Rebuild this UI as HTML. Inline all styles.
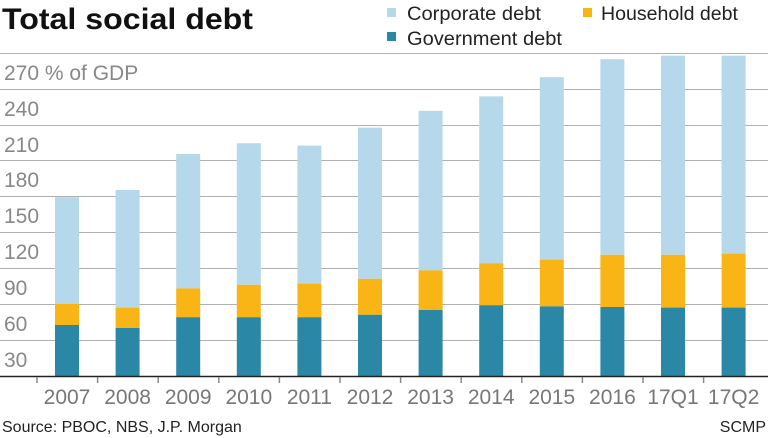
<!DOCTYPE html>
<html><head><meta charset="utf-8"><style>html,body{margin:0;padding:0;background:#fff}svg{display:block}</style></head>
<body>
<svg width="768" height="438" xmlns="http://www.w3.org/2000/svg" font-family="Liberation Sans, sans-serif">
<text x="2" y="29" font-size="30" font-weight="bold" fill="#111" textLength="251" lengthAdjust="spacingAndGlyphs">Total social debt</text>
<rect x="387" y="8" width="9" height="9" fill="#b5d9ea"/>
<text x="407" y="20" font-size="19.5" fill="#222" textLength="134" lengthAdjust="spacingAndGlyphs">Corporate debt</text>
<rect x="583" y="8" width="9" height="9" fill="#f9b516"/>
<text x="601" y="20" font-size="19.5" fill="#222" textLength="137" lengthAdjust="spacingAndGlyphs">Household debt</text>
<rect x="387" y="32" width="9" height="9" fill="#2a88a6"/>
<text x="407" y="45" font-size="19.5" fill="#222" textLength="155" lengthAdjust="spacingAndGlyphs">Government debt</text>
<g stroke="#b0b0b0" stroke-width="1">
<line x1="0" x2="768" y1="53.5" y2="53.5"/><line x1="0" x2="768" y1="89.5" y2="89.5"/><line x1="0" x2="768" y1="125.5" y2="125.5"/><line x1="0" x2="768" y1="160.5" y2="160.5"/><line x1="0" x2="768" y1="196.5" y2="196.5"/><line x1="0" x2="768" y1="232.5" y2="232.5"/><line x1="0" x2="768" y1="268.5" y2="268.5"/><line x1="0" x2="768" y1="304.5" y2="304.5"/><line x1="0" x2="768" y1="340.5" y2="340.5"/>
</g>
<g font-size="21" fill="#888">
<text x="4" y="80">270 % of GDP</text><text x="4" y="116">240</text><text x="4" y="152">210</text><text x="4" y="187">180</text><text x="4" y="223">150</text><text x="4" y="259">120</text><text x="4" y="295">90</text><text x="4" y="331">60</text><text x="4" y="367">30</text>
</g>
<g id="bars"></g>
<line x1="0" x2="768" y1="376.5" y2="376.5" stroke="#222" stroke-width="1.5"/>
<g stroke="#888" stroke-width="1.5" id="ticks"></g>
<g font-size="21" fill="#777" text-anchor="middle" id="labels"></g>
<text x="2" y="432" font-size="16" fill="#222">Source: PBOC, NBS, J.P. Morgan</text>
<text x="766" y="432" font-size="16" fill="#222" text-anchor="end">SCMP</text>
<script>
var d=[["2007",149,60,42.5],["2008",155,57,40],["2009",185,73,49],["2010",194,76,49],["2011",192,77,49],["2012",207,81,51],["2013",221,88,55],["2014",233,94,59],["2015",249,97,58],["2016",264,101,57.5],["17Q1",267,101,57],["17Q2",267,102,57]];
var ns="http://www.w3.org/2000/svg",b=document.getElementById("bars"),t=document.getElementById("ticks"),l=document.getElementById("labels");
function r(x,y,h,c){var e=document.createElementNS(ns,"rect");e.setAttribute("x",x);e.setAttribute("y",y);e.setAttribute("width",24);e.setAttribute("height",h);e.setAttribute("fill",c);b.appendChild(e);}
function Y(v){return 376-v*1.2;}
d.forEach(function(p,i){var x=55+i*60.6;
r(x,Y(p[1]),Y(p[2])-Y(p[1]),"#b5d9ea");r(x,Y(p[2]),Y(p[3])-Y(p[2]),"#f9b516");r(x,Y(p[3]),376-Y(p[3]),"#2a88a6");
var k=document.createElementNS(ns,"line");var tx=x-18;k.setAttribute("x1",tx);k.setAttribute("x2",tx);k.setAttribute("y1",377);k.setAttribute("y2",383);t.appendChild(k);
var s=document.createElementNS(ns,"text");s.setAttribute("x",x+12);s.setAttribute("y",404);s.textContent=p[0];l.appendChild(s);});
</script>
</svg>
</body></html>
